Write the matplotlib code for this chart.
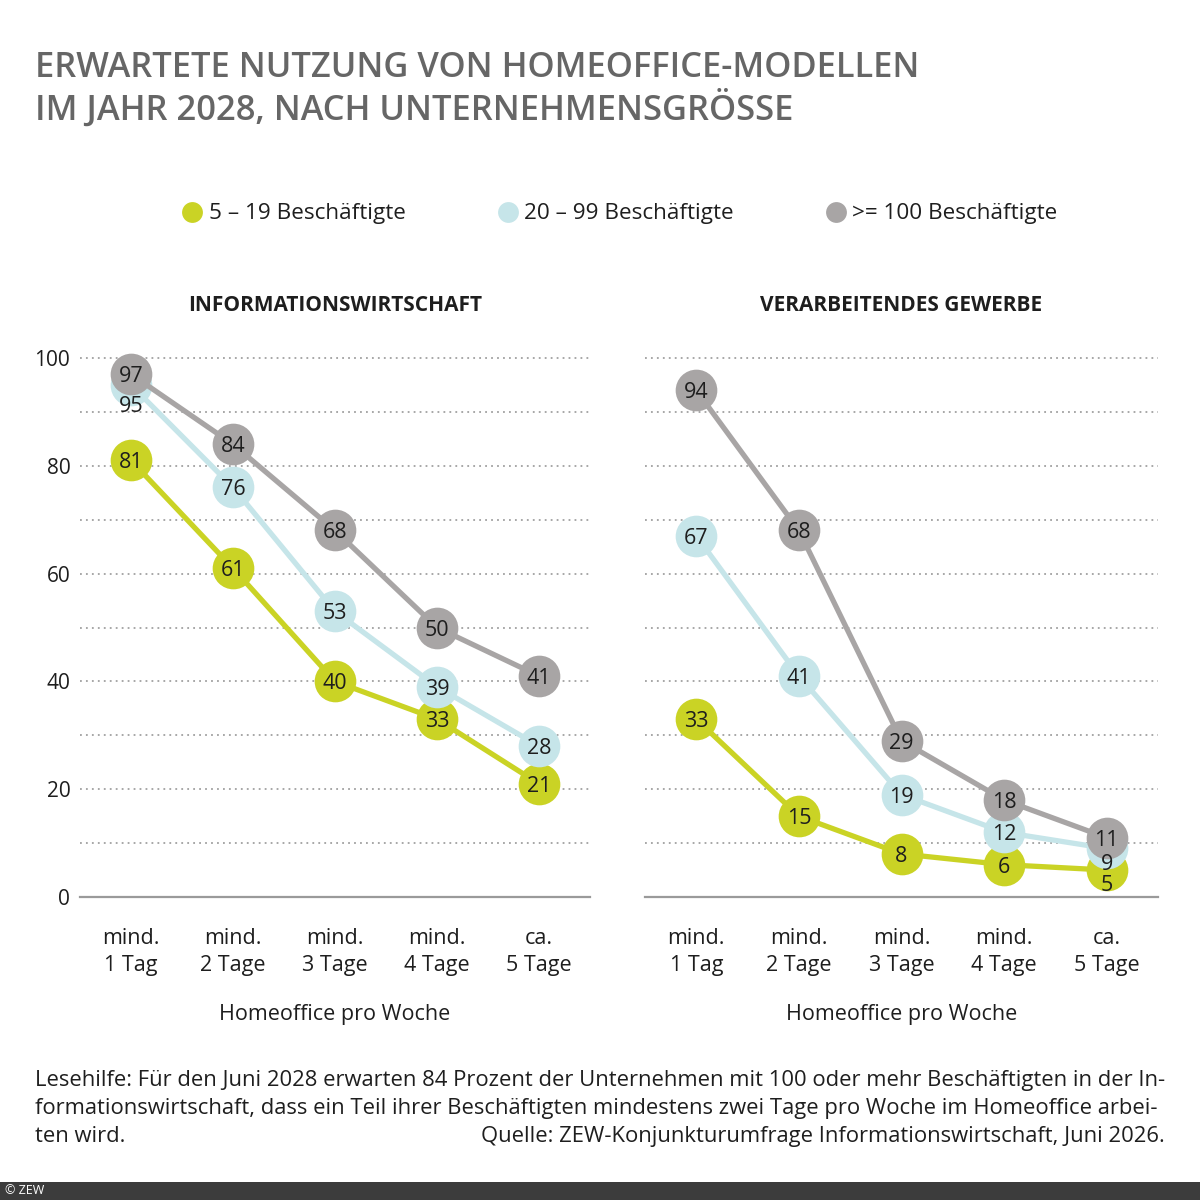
import matplotlib
matplotlib.use("Agg")
import matplotlib.pyplot as plt
from matplotlib.lines import Line2D
from matplotlib.patches import Rectangle

# ---------------- data ----------------
categories = ["mind.\n1 Tag", "mind.\n2 Tage", "mind.\n3 Tage", "mind.\n4 Tage", "ca.\n5 Tage"]
series_names = ["5 – 19 Beschäftigte", "20 – 99 Beschäftigte", ">= 100 Beschäftigte"]
panel_titles = ["INFORMATIONSWIRTSCHAFT", "VERARBEITENDES GEWERBE"]
iw_small = [81, 61, 40, 33, 21]
iw_mid = [95, 76, 53, 39, 28]
iw_large = [97, 84, 68, 50, 41]
vg_small = [33, 15, 8, 6, 5]
vg_mid = [67, 41, 19, 12, 9]
vg_large = [94, 68, 29, 18, 11]
y_ticks = [0, 20, 40, 60, 80, 100]
x_label = "Homeoffice pro Woche"
title_lines = ["ERWARTETE NUTZUNG VON HOMEOFFICE-MODELLEN",
               "IM JAHR 2028, NACH UNTERNEHMENSGRÖSSE"]
note_lines = ["Lesehilfe: Für den Juni 2028 erwarten 84 Prozent der Unternehmen mit 100 oder mehr Beschäftigten in der In-",
              "formationswirtschaft, dass ein Teil ihrer Beschäftigten mindestens zwei Tage pro Woche im Homeoffice arbei-",
              "ten wird."]
source = "Quelle: ZEW-Konjunkturumfrage Informationswirtschaft, Juni 2026."
copyright_text = "© ZEW"

# ---------------- style ----------------
colors = ["#cad325", "#c6e5e9", "#a8a5a5"]
text_dark = "#1e1e1e"
title_gray = "#666666"
FONT = "Open Sans"
plt.rcParams["font.family"] = [FONT, "DejaVu Sans"]
# label offsets (points) for labels that sit below their circle: (panel, series, index) -> dy
label_offsets = {(0, 1, 0): -14, (1, 1, 4): -10, (1, 0, 4): -9}

W = H = 1200
fig = plt.figure(figsize=(12, 12), dpi=100)
fig.patch.set_facecolor("white")

def px(x, y):
    return x / W, 1 - y / H

panels = [[iw_small, iw_mid, iw_large], [vg_small, vg_mid, vg_large]]
ax_left = [80, 645]
ax_width = [510, 513]
y_zero_px = 897
px_per_unit = 5.39
ymax = 103
for p, data in enumerate(panels):
    ax = fig.add_axes([ax_left[p] / W, (H - y_zero_px) / H, ax_width[p] / W,
                       ymax * px_per_unit / H])
    ax.set_xlim(-0.5, 4.5)
    ax.set_ylim(0, ymax)
    for s in ["top", "right", "left"]:
        ax.spines[s].set_visible(False)
    ax.spines["bottom"].set_color("#9a9a9a")
    ax.spines["bottom"].set_linewidth(1.6)
    ax.spines["bottom"].set_zorder(1)
    ax.set_yticks(y_ticks)
    ax.set_yticks([10, 30, 50, 70, 90], minor=True)
    ax.yaxis.grid(True, which="both", linestyle=(0, (1, 2.3)), color="#a0a0a0", lw=1.3)
    ax.set_axisbelow(True)
    ax.tick_params(axis="y", which="both", length=0, pad=7, labelsize=15, labelcolor=text_dark)
    if p == 1:
        ax.tick_params(axis="y", labelleft=False)
    ax.set_xticks(range(len(categories)))
    ax.set_xticklabels(categories, linespacing=1.42)
    ax.tick_params(axis="x", length=0, pad=22, labelsize=15.5, labelcolor=text_dark)
    ax.set_xlabel(x_label, fontsize=15.5, color=text_dark, labelpad=20)
    ax.set_title(panel_titles[p], fontsize=15, fontweight="bold", color=text_dark, pad=22)
    xs = list(range(len(categories)))
    for s, vals in enumerate(data):
        ax.plot(xs, vals, "-", color=colors[s], lw=3.8, zorder=3 + 2 * s, clip_on=False,
                solid_capstyle="round")
        ax.plot(xs, vals, "o", color=colors[s], ms=30, mec="none", zorder=4 + 2 * s,
                clip_on=False)
        for i, v in enumerate(vals):
            dy = label_offsets.get((p, s, i), 0)
            ax.annotate(str(v), (i, v), xytext=(0, dy), textcoords="offset points",
                        ha="center", va="center_baseline", fontsize=15.5, color=text_dark,
                        zorder=20, annotation_clip=False)

renderer = fig.canvas.get_renderer()

def fit(txt, target):
    w = txt.get_window_extent(renderer=renderer).width
    txt.set_fontsize(txt.get_fontsize() * target / w)

# title
t1 = fig.text(*px(35, 77), title_lines[0], fontsize=28, fontweight="semibold", color=title_gray,
              ha="left", va="baseline")
fit(t1, 883)
t2 = fig.text(*px(35, 120), title_lines[1], fontsize=t1.get_fontsize(), fontweight="semibold",
              color=title_gray, ha="left", va="baseline")

# legend
handles = [Line2D([], [], marker="o", ls="none", color=c, ms=15, mec="none") for c in colors]
leg = fig.legend(handles, series_names, loc="center", bbox_to_anchor=(0.517, 1 - 214 / H),
                 ncol=3, frameon=False, fontsize=16.2, handlelength=0.8, handletextpad=0.32,
                 columnspacing=4.15, labelcolor=text_dark)

# footnote
n1 = fig.text(*px(35, 1086), note_lines[0], fontsize=15, color=text_dark, ha="left", va="baseline")
fit(n1, 1130)
fs = n1.get_fontsize()
fig.text(*px(35, 1114), note_lines[1], fontsize=fs, color=text_dark, ha="left", va="baseline")
fig.text(*px(35, 1142), note_lines[2], fontsize=fs, color=text_dark, ha="left", va="baseline")
fig.text(*px(1165, 1142), source, fontsize=fs, color=text_dark, ha="right", va="baseline")

# bottom bar
fig.add_artist(Rectangle((0, 0), 1, 18 / H, transform=fig.transFigure, color="#3c3c3c", lw=0))
fig.text(*px(5, 1191), copyright_text, fontsize=9, color="white", ha="left", va="center")

fig.savefig("out.png", dpi=100)
